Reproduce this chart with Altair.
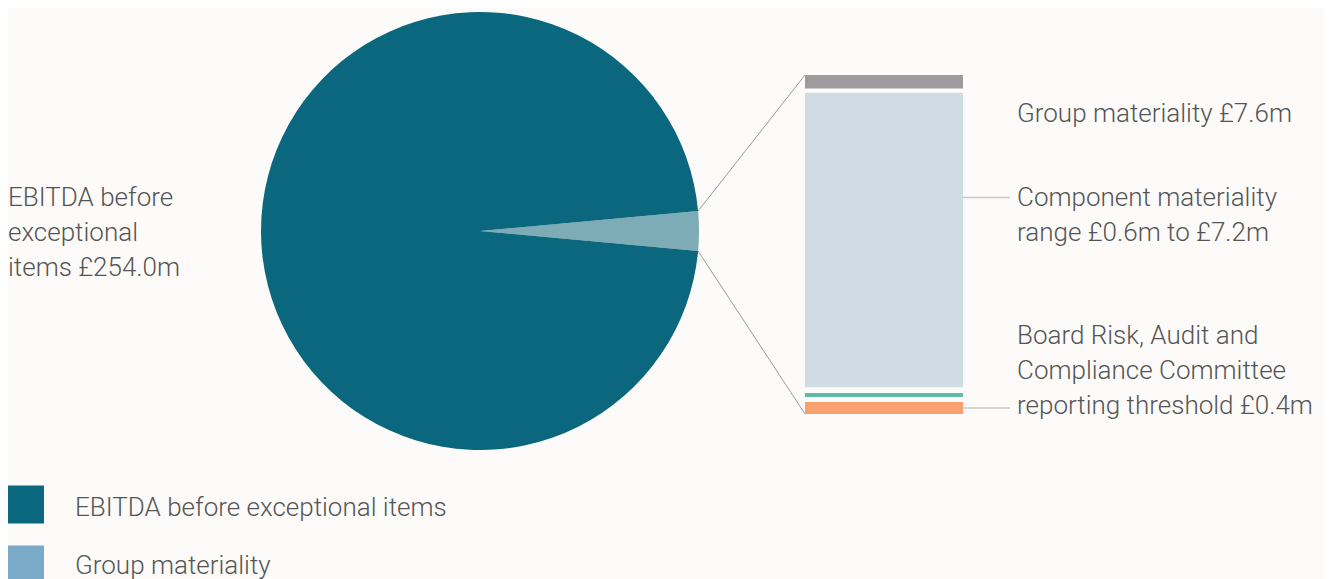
import math
import altair as alt
import pandas as pd

# ---- data ----
pie_labels = ["Group materiality", "EBITDA before exceptional items"]
pie_values = [7.6, 254.0]
pie_colors = ["#7DABB6", "#0A677E"]

bar_segments = ["Group materiality", "Component materiality range",
                "Board threshold band", "Board reporting threshold"]
bar_low = [7.3, 0.6, 0.38, 0.0]
bar_high = [7.6, 7.2, 0.47, 0.27]
bar_colors = ["#9D9B9E", "#D0DCE4", "#5DBEA3", "#F9A06E"]

label_texts = [
    "Group materiality £7.6m",
    "Component materiality\nrange £0.6m to £7.2m",
    "Board Risk, Audit and\nCompliance Committee\nreporting threshold £0.4m",
    "EBITDA before\nexceptional\nitems £254.0m",
]

legend_labels = ["EBITDA before exceptional items", "Group materiality"]
legend_colors = ["#0A677E", "#7AAAC8"]

# ---- layout ----
BG = "#FCFBF9"
TEXT = "#555555"
FONT = "Roboto"
FS = 26
W, H = 1315, 571
CX, CY, R = 472, 223, 219
BAR_X0, BAR_X1 = 797, 955
BAR_TOP, BAR_BOT = 67, 406

total = sum(pie_values)
half = math.pi * pie_values[0] / total
offset = math.pi / 2 - half

pie_df = pd.DataFrame({"label": pie_labels, "value": pie_values,
                       "col": pie_colors, "ord": [0, 1]})
pie = alt.Chart(pie_df).mark_arc(outerRadius=R).encode(
    theta=alt.Theta("value:Q", stack=True,
                    scale=alt.Scale(domain=[0, total],
                                    range=[offset, offset + 2 * math.pi])),
    color=alt.Color("col:N", scale=None),
    order=alt.Order("ord:Q"),
    x=alt.value(CX),
    y=alt.value(CY),
)

bar_df = pd.DataFrame({"seg": bar_segments, "low": bar_low,
                       "high": bar_high, "col": bar_colors})
bar = alt.Chart(bar_df).mark_rect().encode(
    x=alt.value(BAR_X0),
    x2=alt.value(BAR_X1),
    y=alt.Y("low:Q", axis=None,
            scale=alt.Scale(domain=[0, max(bar_high)], range=[BAR_BOT, BAR_TOP])),
    y2="high:Q",
    color=alt.Color("col:N", scale=None),
)

# connector lines from slice edges to bar corners
a1, a2 = offset, offset + 2 * half
conn_df = pd.DataFrame({
    "x": [CX + R * math.sin(a1), CX + R * math.sin(a2)],
    "y": [CY - R * math.cos(a1), CY - R * math.cos(a2)],
    "x2": [BAR_X0, BAR_X0],
    "y2": [BAR_TOP, BAR_BOT],
})
conn = alt.Chart(conn_df).mark_rule(color="#9A9A9A", strokeWidth=1).encode(
    x=alt.X("x:Q", scale=None), y=alt.Y("y:Q", scale=None),
    x2="x2:Q", y2="y2:Q",
)

tick_df = pd.DataFrame({"x": [BAR_X1, BAR_X1], "x2": [1002, 1002],
                        "y": [189.5, 400]})
ticks = alt.Chart(tick_df).mark_rule(color="#C8C8C8", strokeWidth=1.5).encode(
    x=alt.X("x:Q", scale=None), x2="x2:Q", y=alt.Y("y:Q", scale=None),
)

lab_df = pd.DataFrame({"text": label_texts,
                       "x": [1009, 1009, 1009, 0],
                       "y": [106, 190, 328, 190]})
labels = alt.Chart(lab_df).mark_text(
    align="left", baseline="middle", font=FONT, fontSize=FS, fontWeight=300,
    color=TEXT, lineBreak="\n", lineHeight=35,
).encode(x=alt.X("x:Q", scale=None), y=alt.Y("y:Q", scale=None), text="text:N")

leg_df = pd.DataFrame({"label": legend_labels, "col": legend_colors,
                       "x": [17, 17], "y": [496.5, 556.5],
                       "tx": [67, 67], "ty": [500, 558]})
leg_sq = alt.Chart(leg_df).mark_square(size=38 * 38, opacity=1).encode(
    x=alt.X("x:Q", scale=None), y=alt.Y("y:Q", scale=None),
    color=alt.Color("col:N", scale=None),
)
leg_tx = alt.Chart(leg_df).mark_text(
    align="left", baseline="middle", font=FONT, fontSize=FS, fontWeight=300,
    color=TEXT,
).encode(x=alt.X("tx:Q", scale=None), y=alt.Y("ty:Q", scale=None), text="label:N")

chart = alt.layer(pie, conn, bar, ticks, labels, leg_sq, leg_tx).resolve_scale(
    x="independent", y="independent"
).properties(
    width=W, height=H, padding=0, background=BG,
    autosize=alt.AutoSizeParams(type="none"),
).configure_view(stroke=None)

chart.save("out.html", embed_options={"renderer": "svg", "actions": False})
